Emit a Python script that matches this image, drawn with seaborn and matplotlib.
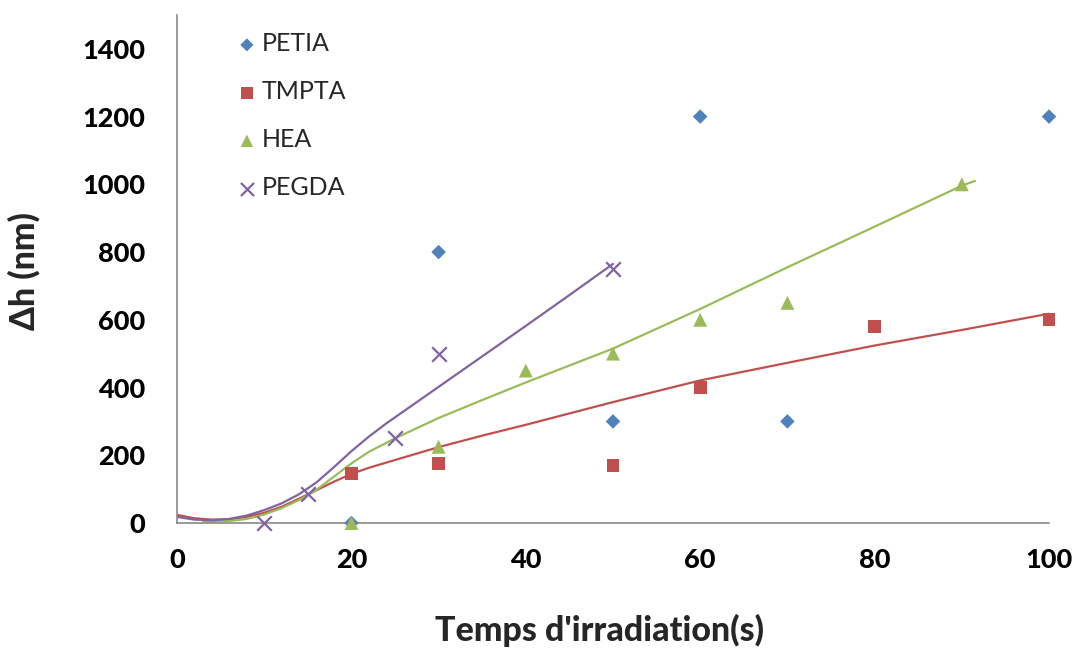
import matplotlib
matplotlib.use("Agg")
import matplotlib.pyplot as plt
import seaborn as sns
import pandas as pd

# ---- data: measured points ----
petia_x = [20, 30, 50, 60, 70, 100]
petia_y = [0, 800, 300, 1200, 300, 1200]
tmpta_x = [20, 30, 50, 60, 80, 100]
tmpta_y = [145, 175, 170, 400, 580, 600]
hea_x = [20, 30, 40, 50, 60, 70, 90]
hea_y = [0, 225, 450, 500, 600, 650, 1000]
pegda_x = [10, 15, 25, 30, 50]
pegda_y = [0, 85, 250, 500, 750]

# ---- trend curves ----
tmpta_fit_x = [0, 2, 4, 6, 8, 10, 12, 14, 16, 18, 20, 22, 25, 30, 35, 40, 50, 60, 70, 80, 90, 100]
tmpta_fit_y = [24, 14, 10, 11, 18, 30, 48, 72, 97, 122, 145, 163, 186, 224, 258, 290, 357, 421, 473, 524, 570, 618]
hea_fit_x = [3, 6, 8, 10, 12, 14, 16, 18, 20, 22, 25, 30, 35, 40, 50, 60, 70, 80, 90, 91.5]
hea_fit_y = [4, 6, 12, 25, 44, 68, 98, 137, 176, 210, 250, 310, 363, 415, 515, 632, 755, 875, 996, 1010]
pegda_fit_x = [0, 2, 4, 6, 8, 10, 12, 14, 16, 18, 20, 22, 24, 26, 28, 30, 35, 40, 45, 50]
pegda_fit_y = [18, 10, 8, 12, 22, 38, 58, 85, 120, 165, 212, 255, 294, 330, 366, 402, 492, 582, 673, 765]

x_ticks = [0, 20, 40, 60, 80, 100]
y_ticks = [0, 200, 400, 600, 800, 1000, 1200, 1400]

sns.set_theme(style="white")
plt.rcParams['font.family'] = ['Lato', 'DejaVu Sans']

C_BLUE, C_RED, C_GREEN, C_PURPLE = "#4F81BD", "#C0504D", "#9BBB59", "#8064A2"

fig = plt.figure(figsize=(10.78, 6.51), dpi=100)
ax = fig.add_axes([177/1078, 128/651, 872/1078, 508/651])

# trend lines
sns.lineplot(x=tmpta_fit_x, y=tmpta_fit_y, ax=ax, color=C_RED, lw=1.6, legend=False, sort=False)
sns.lineplot(x=hea_fit_x, y=hea_fit_y, ax=ax, color=C_GREEN, lw=1.6, legend=False, sort=False)
sns.lineplot(x=pegda_fit_x, y=pegda_fit_y, ax=ax, color=C_PURPLE, lw=1.6, legend=False, sort=False)

# markers
sns.scatterplot(x=petia_x, y=petia_y, ax=ax, marker="D", s=55, color=C_BLUE,
                edgecolor="none", label="PETIA", clip_on=False, zorder=5)
sns.scatterplot(x=tmpta_x, y=tmpta_y, ax=ax, marker="s", s=85, color=C_RED,
                edgecolor="none", label="TMPTA", clip_on=False, zorder=5)
sns.scatterplot(x=hea_x, y=hea_y, ax=ax, marker="^", s=100, color=C_GREEN,
                edgecolor="none", label="HEA", clip_on=False, zorder=5)
sns.scatterplot(x=pegda_x, y=pegda_y, ax=ax, marker="x", s=110, color=C_PURPLE,
                linewidth=1.6, label="PEGDA", clip_on=False, zorder=5)

ax.set_xlim(0, 100)
ax.set_ylim(0, 1500)
ax.set_xticks(x_ticks)
ax.set_yticks(y_ticks)
ax.set_xticklabels([str(v) for v in x_ticks])
ax.set_yticklabels([str(v) for v in y_ticks])

for s in ["top", "right"]:
    ax.spines[s].set_visible(False)
for s in ["left", "bottom"]:
    ax.spines[s].set_color("#898989")
    ax.spines[s].set_linewidth(1.2)

ax.tick_params(axis="both", direction="in", length=7, width=1.2, color="#898989",
               labelsize=19.5, labelcolor="black")
ax.tick_params(axis="y", pad=23)
ax.tick_params(axis="x", pad=18)
for lab in ax.get_xticklabels() + ax.get_yticklabels():
    lab.set_fontweight(900)

ax.set_xlabel("Temps d'irradiation(s)", fontsize=24.5, fontweight=900)
ax.set_ylabel("Δh (nm)", fontsize=24.5, fontweight=900)
ax.xaxis.set_label_coords(0.485, -0.178)
ax.yaxis.set_label_coords(-0.157, 0.495)

leg = ax.legend(loc="upper left", bbox_to_anchor=(0.04, 1.01), frameon=False,
                fontsize=18, handletextpad=0.1, labelspacing=1.0, markerscale=0.9,
                handlelength=1.0)

fig.savefig("out.png", dpi=100)
